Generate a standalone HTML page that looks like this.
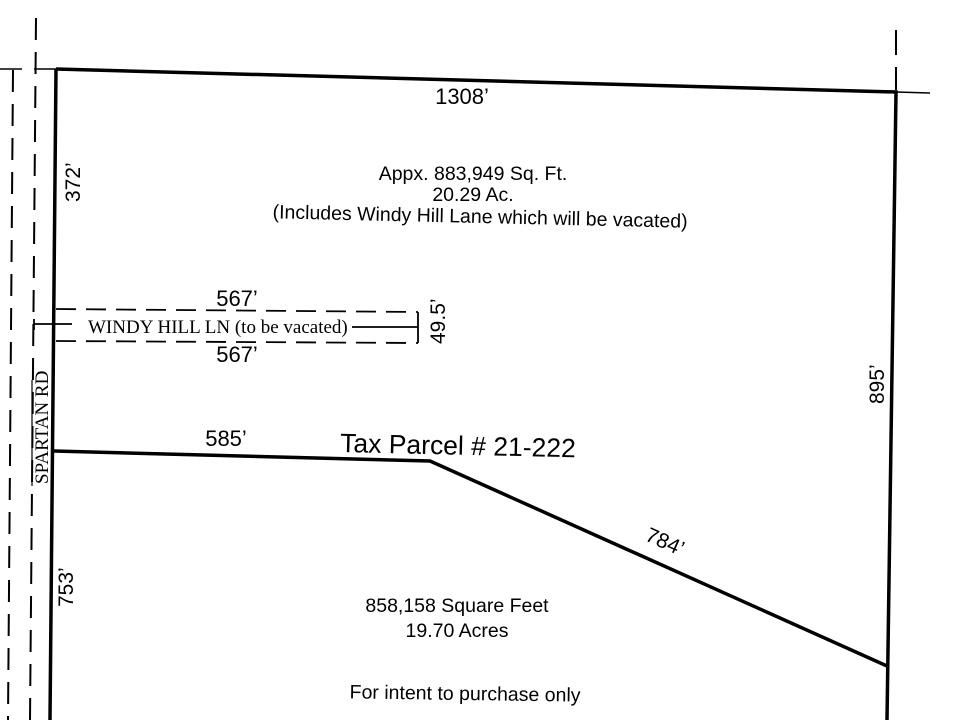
<!DOCTYPE html>
<html><head><style>
body{margin:0;background:#fff}
svg{display:block}
.t{font-family:"Liberation Sans",sans-serif;fill:#000}
</style></head><body>
<svg width="960" height="720" viewBox="0 0 960 720" xmlns="http://www.w3.org/2000/svg">
<g stroke="#000" fill="none">
<path d="M36 18 L30 720" stroke-width="2" stroke-dasharray="22 12"/>
<path d="M13 70 L8 720" stroke-width="2" stroke-dasharray="22 12"/>
<path d="M0 69 L22 69 M34 69 L56 69" stroke-width="1.5"/>
<path d="M896 30 L896 90" stroke-width="2" stroke-dasharray="25 12"/>
<path d="M896 92 L930 93" stroke-width="1.5"/>
<path d="M56 69 L896 92 L887 720" stroke-width="3.5"/>
<path d="M56 69 L50 720" stroke-width="3.5"/>
<path d="M54 451 L430 461 L887 666" stroke-width="3.5"/>
<path d="M56 309 L418 312" stroke-width="1.8" stroke-dasharray="20 10"/>
<path d="M56 341 L418 343" stroke-width="1.8" stroke-dasharray="20 10"/>
<path d="M418 312 L418 343" stroke-width="1.8"/>
<path d="M352 327 L418 327" stroke-width="1.8"/>
<path d="M34 324 L72 324 M34 319 L34 330" stroke-width="1.8"/>
<path d="M32 380 L32 486" stroke-width="1.2"/>
</g>
<text class="t" x="462" y="104" font-size="22" text-anchor="middle">1308’</text>
<text class="t" x="473" y="180" font-size="19.5" text-anchor="middle">Appx. 883,949 Sq. Ft.</text>
<text class="t" x="473" y="201" font-size="19.5" text-anchor="middle">20.29 Ac.</text>
<text class="t" x="480" y="223" font-size="19.5" text-anchor="middle" transform="rotate(1.3 480 223)">(Includes Windy Hill Lane which will be vacated)</text>
<text class="t" x="80" y="202" font-size="21" transform="rotate(-90 80 202)">372’</text>
<text class="t" x="237" y="306" font-size="22" text-anchor="middle">567’</text>
<text class="t" x="237" y="362" font-size="22" text-anchor="middle">567’</text>
<text x="88" y="333" font-size="19" font-family="Liberation Serif,serif">WINDY HILL LN (to be vacated)</text>
<text class="t" x="445" y="344" font-size="21" transform="rotate(-90 445 344)">49.5’</text>
<text x="48" y="484" font-size="19" font-family="Liberation Serif,serif" transform="rotate(-90 48 484)">SPARTAN RD</text>
<text class="t" x="226" y="446" font-size="22" text-anchor="middle">585’</text>
<text class="t" x="340" y="452" font-size="26.5" transform="rotate(1.3 340 452)">Tax Parcel # 21-222</text>
<text class="t" x="644" y="540" font-size="21" transform="rotate(24 644 540)">784’</text>
<text class="t" x="884" y="404" font-size="21" transform="rotate(-90 884 404)">895’</text>
<text class="t" x="73" y="607" font-size="21" transform="rotate(-90 73 607)">753’</text>
<text class="t" x="457" y="612" font-size="19.5" text-anchor="middle">858,158 Square Feet</text>
<text class="t" x="457" y="637" font-size="19.5" text-anchor="middle">19.70 Acres</text>
<text class="t" x="465" y="700" font-size="19.5" text-anchor="middle" transform="rotate(0.8 465 700)">For intent to purchase only</text>
</svg>
</body></html>
